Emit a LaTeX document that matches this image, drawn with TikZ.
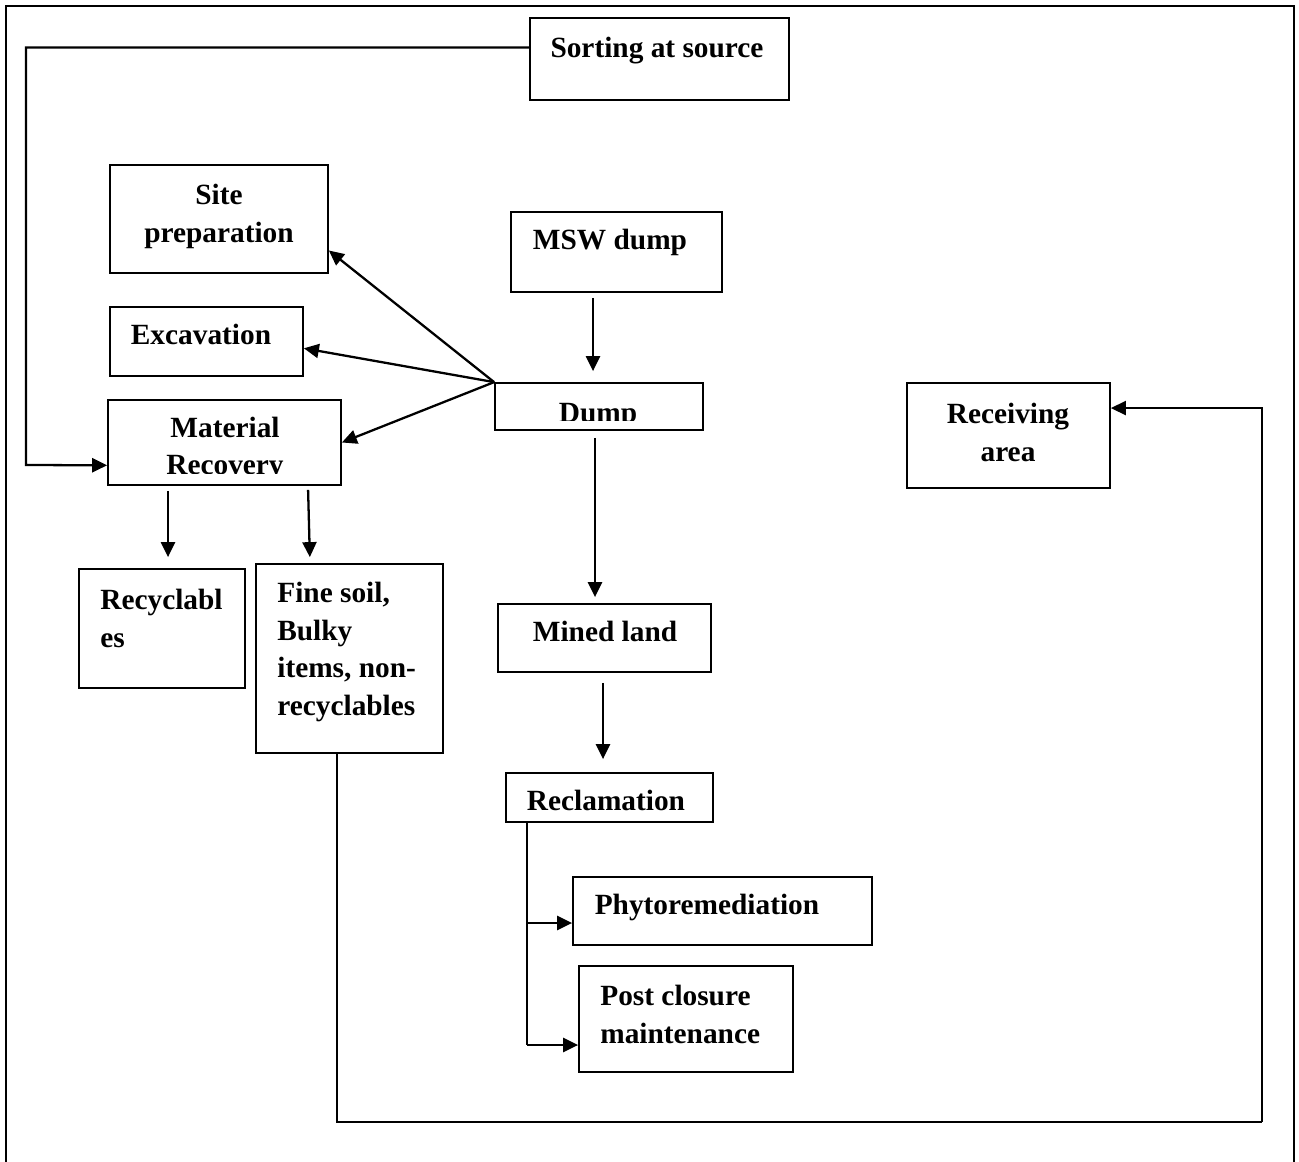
\documentclass[tikz,border=0pt]{standalone}
\usepackage{fontspec}
\setmainfont{Liberation Serif}
\usetikzlibrary{arrows.meta,positioning,fit}

\begin{document}
\begin{tikzpicture}[
    x=0.02cm, y=-0.02cm,
    box/.style={draw,line width=1pt,inner sep=0pt},
    txt/.style={inner sep=0pt,align=center,font=\fontsize{16.7}{21.6}\selectfont\bfseries},
    flow/.style={-{Triangle[length=0.3cm,width=0.28cm]},line width=1.3pt},
    thin/.style={line width=0.8pt}
  ]
    \useasboundingbox (0,0) rectangle (1299,1162);
    \draw[line width=1.1pt] (6,1162) -- (6,6) -- (1294,6) -- (1294,1162);

    % boxes
    \node[box,fit={(530,18) (789,100)}] (sort) {};
    \node[box,fit={(110,165) (328,273)}] (site) {};
    \node[box,fit={(110,307) (303,376)}] (exc) {};
    \node[box,fit={(108,400) (341,485)}] (mrec) {};
    \node[box,fit={(511,212) (722,292)}] (msw) {};
    \node[box,fit={(495,383) (703,430)}] (dump) {};
    \node[box,fit={(907,383) (1110,488)}] (recv) {};
    \node[box,fit={(79,569) (245,688)}] (recy) {};
    \node[box,fit={(256,564) (443,753)}] (fine) {};
    \node[box,fit={(498,604) (711,672)}] (mined) {};
    \node[box,fit={(506,773) (713,822)}] (recl) {};
    \node[box,fit={(573,877) (872,945)}] (phyto) {};
    \node[box,fit={(579,966) (793,1072)}] (post) {};

    % texts
    \node[txt,anchor=base] (sortT) at (657,58) {Sorting at source};
    \node[txt] (siteT) at (219,216) {Site\\preparation};
    \node[txt,anchor=base] (excT) at (201,345) {Excavation};
    \node[txt,anchor=base] (mswT) at (610,250) {MSW dump};
    \node[txt] (recvT) at (1008,432) {Receiving\\area};
    \node[txt,anchor=base] (minedT) at (605,641) {Mined land};
    \node[txt,anchor=base] (reclT) at (606,810) {Reclamation};
    \node[txt,anchor=base] (phytoT) at (707,914) {Phytoremediation};
    \node[txt,align=left,anchor=west] (recyT) at (100,618) {Recyclabl\\es};
    \node[txt,align=left,anchor=west] (fineT) at (277,652) {Fine soil,\\Bulky\\items, non-\\recyclables};
    \node[txt,align=left,anchor=west] (postT) at (600,1014) {Post closure\\maintenance};
    \begin{scope}
      \clip (mrec.north west) rectangle ([yshift=0.24cm]mrec.south east);
      \node[txt] (mrecT) at (225,449) {Material\\Recovery};
    \end{scope}
    \begin{scope}
      \clip (dump.north west) rectangle ([yshift=0.2cm]dump.south east);
      \node[txt,anchor=base] (dumpT) at (598,422) {Dump};
    \end{scope}

    % connectors
    \coordinate (fbL) at (26,465);
    \draw[flow] (sort.175) -| (fbL) -- (mrec.191);
    \draw[flow] (dump.north west) -- (site.-16);
    \draw[flow] (dump.north west) -- (exc.-4);
    \draw[flow] (dump.north west) -- (mrec.east);
    \draw[flow,shorten <=0.1cm,shorten >=0.22cm] ([xshift=-0.47cm]msw.south) -- ([xshift=-0.47cm]msw.south |- dump.north);
    \draw[flow,shorten <=0.14cm,shorten >=0.12cm] ([xshift=-0.08cm]dump.south) -- ([xshift=-0.08cm]dump.south |- mined.north);
    \draw[flow,shorten <=0.2cm,shorten >=0.26cm] ([xshift=-0.03cm]mined.south) -- ([xshift=-0.03cm]mined.south |- recl.north);
    \draw[flow,shorten <=0.1cm,shorten >=0.22cm] ([xshift=-1.13cm]mrec.south) -- ([xshift=-1.13cm]mrec.south |- recy.north);
    \draw[flow,shorten <=0.08cm,shorten >=0.12cm] ([xshift=1.67cm]mrec.south) -- ([xshift=-0.79cm]fine.north);

    \coordinate (brMid) at (527,923);
    \coordinate (brEnd) at (527,1045);
    \draw[thin] (recl.south -| brEnd) -- (brEnd);
    \draw[flow] (brMid) -- (brMid -| phyto.west);
    \draw[flow] (brEnd) -- (brEnd -| post.west);

    \coordinate (retA) at (337,1122);
    \coordinate (retB) at (1262,1122);
    \draw[thin] (fine.south -| retA) -- (retA) -- (retB);
    \draw[flow] (retB) |- (recv.15);
  \end{tikzpicture}
\end{document}
